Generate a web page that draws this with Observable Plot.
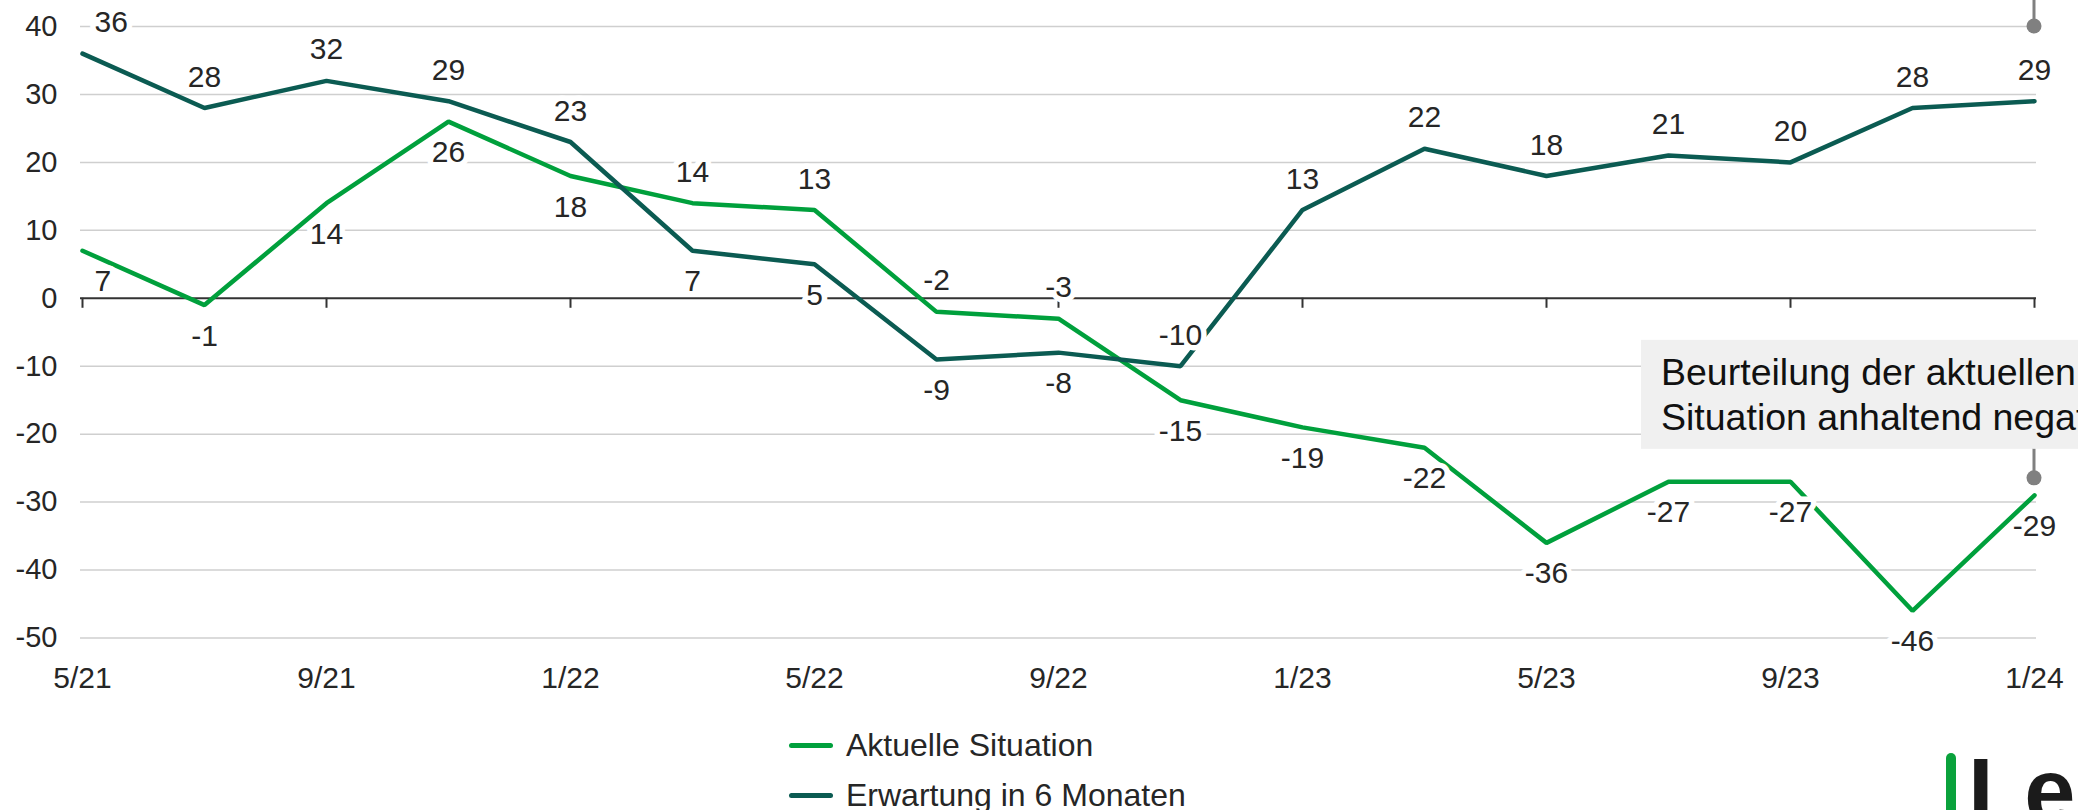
<!DOCTYPE html>
<html>
<head>
<meta charset="utf-8">
<script src="https://cdn.jsdelivr.net/npm/d3@7"></script>
<script src="https://cdn.jsdelivr.net/npm/@observablehq/plot@0.6"></script>
<style>
  html, body { margin: 0; padding: 0; background: #fff; overflow: hidden; width: 2078px; height: 810px; }
  #wrap { position: relative; width: 2078px; height: 810px; overflow: hidden;
          font-family: "Liberation Sans", Arial, sans-serif; color: #262626; }
  #legend { position: absolute; left: 789px; top: 720px; }
  .row { display: flex; align-items: center; height: 50px; font-size: 32px; white-space: nowrap; }
  .sw { width: 44px; height: 5px; border-radius: 3px; margin-right: 13px; }
  #logoBar { position: absolute; left: 1946px; top: 753px; width: 10px; height: 80px; border-radius: 5px; background: #0aa23c; }
  #logoText { position: absolute; left: 1968px; top: 745px; font-size: 92px; line-height: 1; font-weight: bold; color: #1b1b1b; white-space: nowrap; }
</style>
</head>
<body>
<div id="wrap">
  <div id="chart"></div>
  <div id="legend"></div>
  <div id="logoBar"></div>
  <div id="logoText">Len</div>
</div>
<script>
// ---- data ----
const months = ["5/21","7/21","9/21","11/21","1/22","3/22","5/22","7/22","9/22","11/22","1/23","3/23","5/23","7/23","9/23","11/23","1/24"];
const aktuell   = [7, -1, 14, 26, 18, 14, 13, -2, -3, -15, -19, -22, -36, -27, -27, -46, -29];
const erwartung = [36, 28, 32, 29, 23, 7, 5, -9, -8, -10, 13, 22, 18, 21, 20, 28, 29];
const xTickLabels = ["5/21","9/21","1/22","5/22","9/22","1/23","5/23","9/23","1/24"];
const yTicks = [-50, -40, -30, -20, -10, 0, 10, 20, 30, 40];
const seriesNames = ["Aktuelle Situation", "Erwartung in 6 Monaten"];
const seriesColors = ["#00a03c", "#0b5b52"];
const annotations = [
  { month: "1/24", value: 40, lines: [] },
  { month: "1/24", value: -26.5, lines: ["Beurteilung der aktuellen", "Situation anhaltend negativ"] }
];

// ---- layout ----
const W = 2078, H = 720;
const mTop = 26, mBottom = 82.5, mLeft = 80, mRight = 42;
const yDomain = [-50, 40];
const unitsPerPx = (yDomain[1] - yDomain[0]) / (H - mTop - mBottom);
const tickLen = 10 * unitsPerPx;

const rows = [];
months.forEach((m, i) => {
  rows.push({ series: 0, month: m, i, value: aktuell[i], above: aktuell[i] > erwartung[i] });
  rows.push({ series: 1, month: m, i, value: erwartung[i], above: erwartung[i] >= aktuell[i] });
});

const labelStyle = { fontSize: 30, fill: "#262626", stroke: "white", strokeWidth: 11, strokeLinejoin: "round" };
const labelMarks = [];
for (const above of [true, false]) {
  for (const first of [true, false]) {
    labelMarks.push(Plot.text(rows, {
      filter: d => d.above === above && (d.i === 0) === first,
      x: "month", y: "value", text: d => String(d.value),
      dy: above ? -31 : 31,
      dx: first ? 12 : 0,
      textAnchor: first ? "start" : "middle",
      lineAnchor: "middle",
      ...labelStyle
    }));
  }
}

const chart = Plot.plot({
  width: W, height: H,
  marginTop: mTop, marginBottom: mBottom, marginLeft: mLeft, marginRight: mRight,
  style: { fontFamily: '"Liberation Sans", Arial, sans-serif', color: "#262626", background: "white", overflow: "visible" },
  x: { type: "point", domain: months, padding: 0, label: null },
  y: { domain: yDomain, label: null },
  marks: [
    Plot.ruleY(yTicks.filter(v => v !== 0), { stroke: "#cfcfcf", strokeWidth: 1.5 }),
    Plot.axisY(yTicks, { tickSize: 0, tickPadding: 23, fontSize: 29, tickFormat: d => String(d), label: null }),
    Plot.axisX(xTickLabels, { tickSize: 0, tickPadding: 29, fontSize: 30, label: null }),
    Plot.ruleY([0], { stroke: "#333", strokeWidth: 2 }),
    Plot.ruleX(xTickLabels, { x: d => d, y1: 0, y2: -tickLen, stroke: "#333", strokeWidth: 2 }),
    Plot.line(rows, { filter: d => d.series === 0, x: "month", y: "value", stroke: seriesColors[0], strokeWidth: 4.5, strokeLinejoin: "miter" }),
    Plot.line(rows, { filter: d => d.series === 1, x: "month", y: "value", stroke: seriesColors[1], strokeWidth: 4.5, strokeLinejoin: "miter" }),
    ...labelMarks
  ]
});
document.getElementById("chart").appendChild(chart);

// ---- annotations ----
const sx = chart.scale("x"), sy = chart.scale("y");
const g = d3.select(chart).append("g").attr("text-anchor", "start");
annotations.forEach(a => {
  const px = sx.apply(a.month), py = sy.apply(a.value);
  if (a.lines.length) {
    const boxTop = py - 138, boxBottom = py - 29;
    g.append("rect").attr("x", px - 393).attr("y", boxTop).attr("width", 800).attr("height", boxBottom - boxTop).attr("fill", "#f0f0f0");
    a.lines.forEach((t, k) => {
      g.append("text").attr("x", px - 373).attr("y", py - 93 + k * 45)
        .attr("text-anchor", "start")
        .attr("font-size", 37.5).attr("fill", "#111").text(t);
    });
    g.append("line").attr("x1", px).attr("x2", px).attr("y1", py).attr("y2", boxBottom)
      .attr("stroke", "#808080").attr("stroke-width", 3);
  } else {
    g.append("line").attr("x1", px).attr("x2", px).attr("y1", py).attr("y2", py - 80)
      .attr("stroke", "#808080").attr("stroke-width", 3);
  }
  g.append("circle").attr("cx", px).attr("cy", py).attr("r", 7.5).attr("fill", "#808080");
});

// ---- legend ----
const legend = document.getElementById("legend");
seriesNames.forEach((n, i) => {
  const row = document.createElement("div");
  row.className = "row";
  const sw = document.createElement("div");
  sw.className = "sw"; sw.style.background = seriesColors[i];
  const t = document.createElement("span"); t.textContent = n;
  row.appendChild(sw); row.appendChild(t);
  legend.appendChild(row);
});
</script>
</body>
</html>
